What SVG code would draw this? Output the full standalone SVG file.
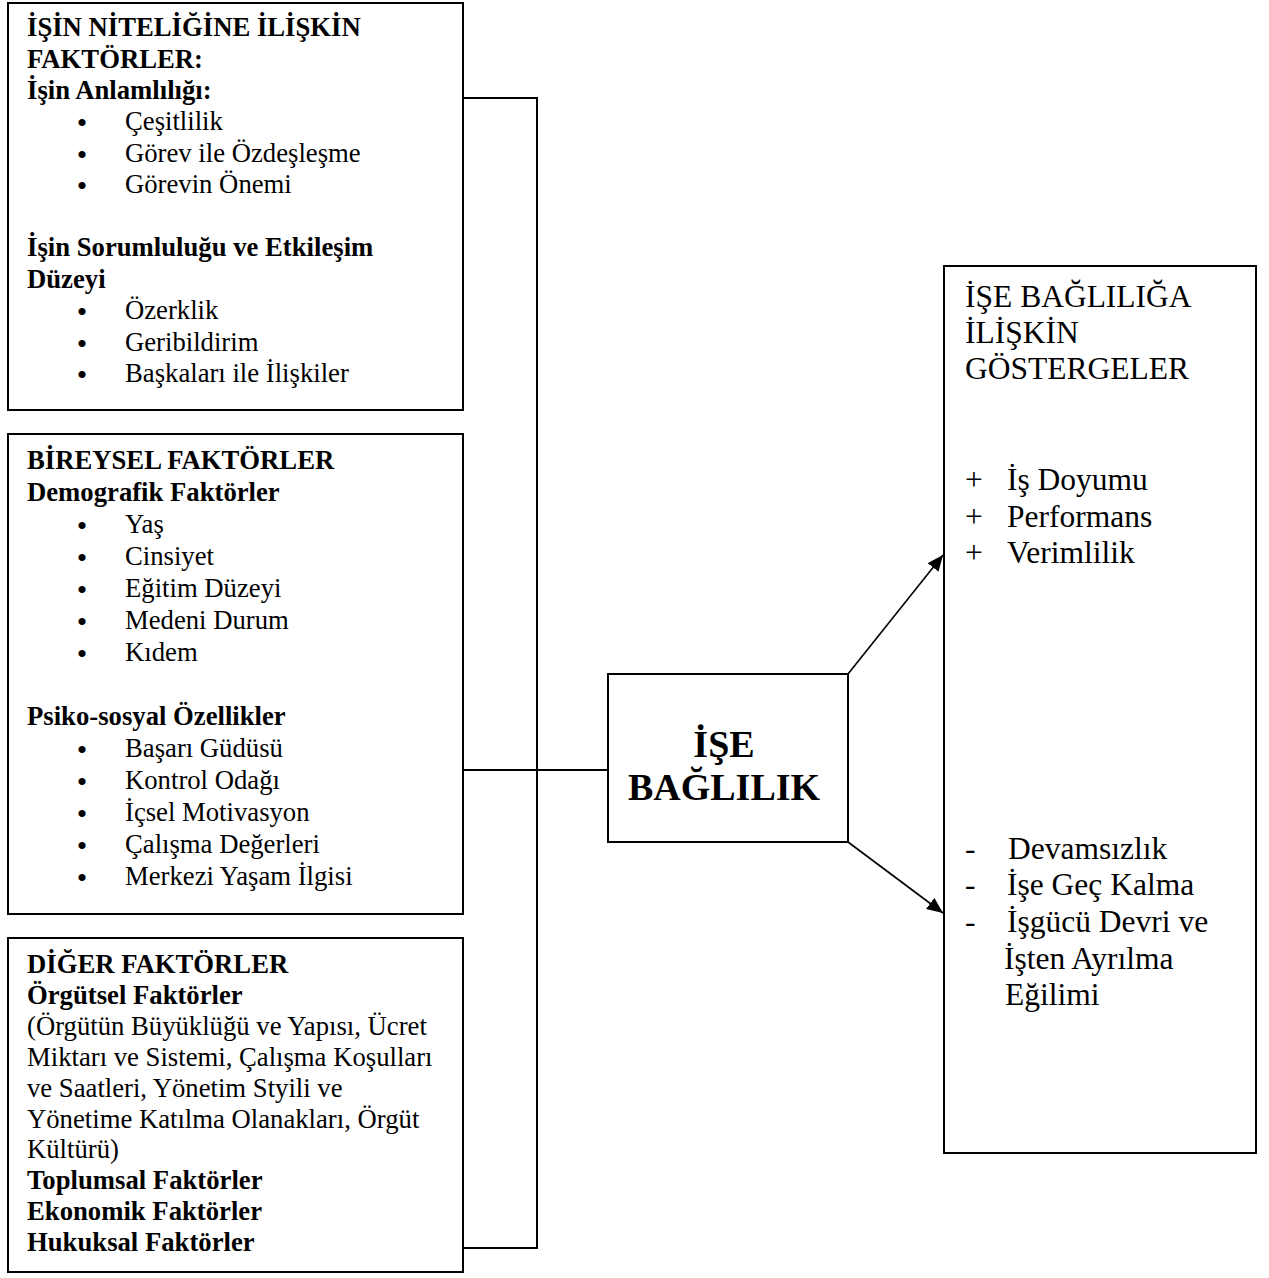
<svg xmlns="http://www.w3.org/2000/svg" width="1269" height="1278" viewBox="0 0 1269 1278">
<defs>
<style>
.box{fill:#fff;stroke:#000;stroke-width:2}
.ln{fill:none;stroke:#000;stroke-width:2}
.ar{fill:none;stroke:#000;stroke-width:1.6}
text{font-family:"Liberation Serif","Times New Roman",serif;fill:#000}
.t{font-size:26.7px}
.b{font-size:26.7px;font-weight:bold}
.u{font-size:30px;text-anchor:middle}
.r{font-size:31.5px}
.c{font-size:38px;font-weight:bold}
</style>
<marker id="ah" markerWidth="16" markerHeight="14" refX="16" refY="7" orient="auto" markerUnits="userSpaceOnUse">
<path d="M0,0 L16,7 L0,14 Z" fill="#000"/>
</marker>
</defs>
<g id="connectors">
<path class="ln" d="M463,98 H537 V1248 H463"/>
<path class="ln" d="M463,770 H608"/>
<line class="ar" x1="848" y1="674" x2="943" y2="555" marker-end="url(#ah)"/>
<line class="ar" x1="848" y1="842" x2="943" y2="913" marker-end="url(#ah)"/>
</g>
<g id="node-isin-niteligi">
<rect class="box" x="8" y="3" width="455" height="407"/>
<text class="b" x="27" y="36">İŞİN NİTELİĞİNE İLİŞKİN</text>
<text class="b" x="27" y="67.5">FAKTÖRLER:</text>
<text class="b" x="27" y="99">İşin Anlamlılığı:</text>
<text class="u" x="82" y="133">•</text><text class="t" x="125" y="130">Çeşitlilik</text>
<text class="u" x="82" y="164.5">•</text><text class="t" x="125" y="161.5">Görev ile Özdeşleşme</text>
<text class="u" x="82" y="196">•</text><text class="t" x="125" y="193">Görevin Önemi</text>
<text class="b" x="27" y="256">İşin Sorumluluğu ve Etkileşim</text>
<text class="b" x="27" y="287.5">Düzeyi</text>
<text class="u" x="82" y="322">•</text><text class="t" x="125" y="319">Özerklik</text>
<text class="u" x="82" y="353.5">•</text><text class="t" x="125" y="350.5">Geribildirim</text>
<text class="u" x="82" y="385">•</text><text class="t" x="125" y="382">Başkaları ile İlişkiler</text>
</g>
<g id="node-bireysel">
<rect class="box" x="8" y="434" width="455" height="480"/>
<text class="b" x="27" y="469">BİREYSEL FAKTÖRLER</text>
<text class="b" x="27" y="501">Demografik Faktörler</text>
<text class="u" x="82" y="536">•</text><text class="t" x="125" y="533">Yaş</text>
<text class="u" x="82" y="568">•</text><text class="t" x="125" y="565">Cinsiyet</text>
<text class="u" x="82" y="600">•</text><text class="t" x="125" y="597">Eğitim Düzeyi</text>
<text class="u" x="82" y="632">•</text><text class="t" x="125" y="629">Medeni Durum</text>
<text class="u" x="82" y="664">•</text><text class="t" x="125" y="661">Kıdem</text>
<text class="b" x="27" y="725">Psiko-sosyal Özellikler</text>
<text class="u" x="82" y="760">•</text><text class="t" x="125" y="757">Başarı Güdüsü</text>
<text class="u" x="82" y="792">•</text><text class="t" x="125" y="789">Kontrol Odağı</text>
<text class="u" x="82" y="824">•</text><text class="t" x="125" y="821">İçsel Motivasyon</text>
<text class="u" x="82" y="856">•</text><text class="t" x="125" y="853">Çalışma Değerleri</text>
<text class="u" x="82" y="888">•</text><text class="t" x="125" y="885">Merkezi Yaşam İlgisi</text>
</g>
<g id="node-diger">
<rect class="box" x="8" y="938" width="455" height="334"/>
<text class="b" x="27" y="973">DİĞER FAKTÖRLER</text>
<text class="b" x="27" y="1004">Örgütsel Faktörler</text>
<text class="t" x="27" y="1035">(Örgütün Büyüklüğü ve Yapısı, Ücret</text>
<text class="t" x="27" y="1066">Miktarı ve Sistemi, Çalışma Koşulları</text>
<text class="t" x="27" y="1097">ve Saatleri, Yönetim Styili ve</text>
<text class="t" x="27" y="1128">Yönetime Katılma Olanakları, Örgüt</text>
<text class="t" x="27" y="1158">Kültürü)</text>
<text class="b" x="27" y="1189">Toplumsal Faktörler</text>
<text class="b" x="27" y="1220">Ekonomik Faktörler</text>
<text class="b" x="27" y="1251">Hukuksal Faktörler</text>
</g>
<g id="node-ise-baglilik">
<rect class="box" x="608" y="674" width="240" height="168"/>
<text class="c" x="724" y="757" text-anchor="middle">İŞE</text>
<text class="c" x="724" y="800" text-anchor="middle">BAĞLILIK</text>
</g>
<g id="node-gostergeler">
<rect class="box" x="944" y="266" width="312" height="887"/>
<text class="r" x="965" y="307">İŞE BAĞLILIĞA</text>
<text class="r" x="965" y="343">İLİŞKİN</text>
<text class="r" x="965" y="379">GÖSTERGELER</text>
<text class="r" x="965" y="490">+</text><text class="r" x="1007" y="490">İş Doyumu</text>
<text class="r" x="965" y="527">+</text><text class="r" x="1007" y="527">Performans</text>
<text class="r" x="965" y="563">+</text><text class="r" x="1007" y="563">Verimlilik</text>
<text class="r" x="965" y="859">-</text><text class="r" x="1008" y="859">Devamsızlık</text>
<text class="r" x="965" y="895">-</text><text class="r" x="1007" y="895">İşe Geç Kalma</text>
<text class="r" x="965" y="932">-</text><text class="r" x="1007" y="932">İşgücü Devri ve</text>
<text class="r" x="1004" y="969">İşten Ayrılma</text>
<text class="r" x="1005" y="1005">Eğilimi</text>
</g>
</svg>
